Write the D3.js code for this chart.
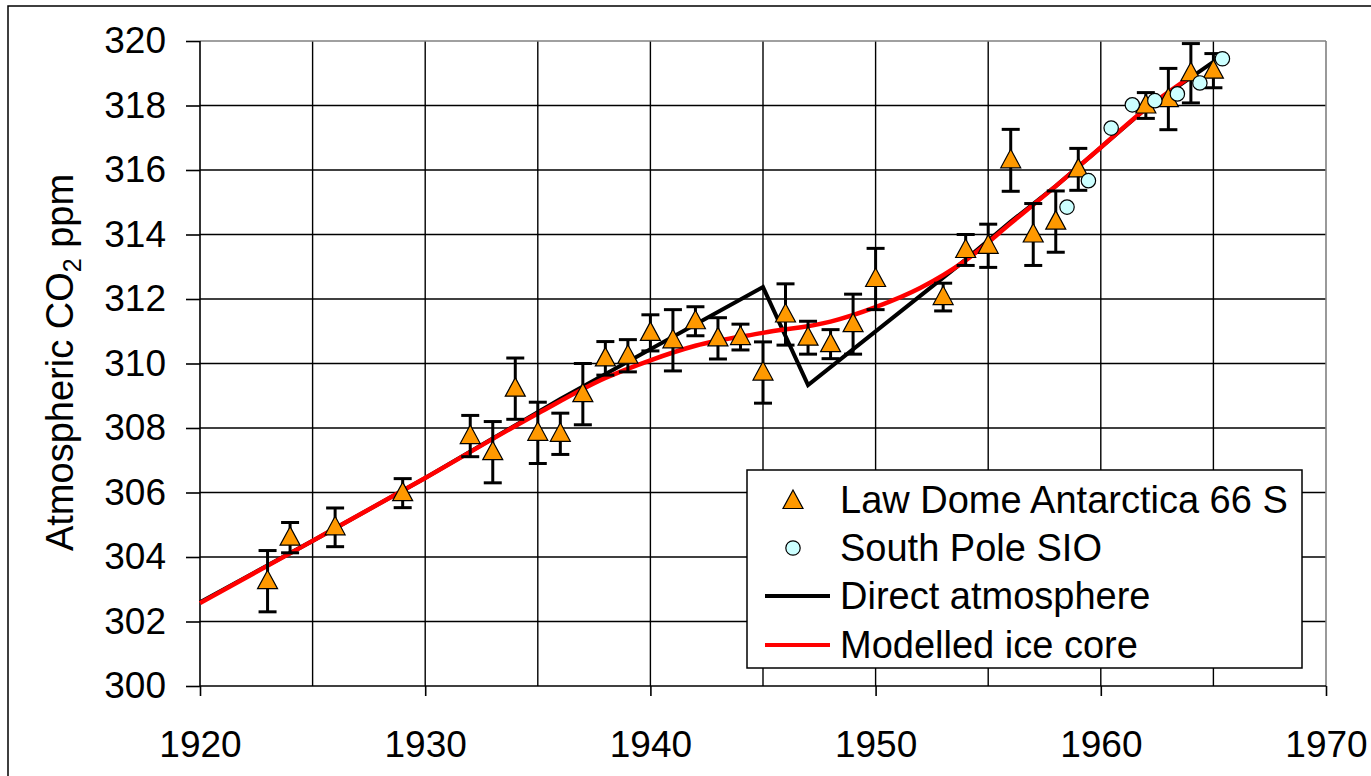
<!DOCTYPE html>
<html>
<head>
<meta charset="utf-8">
<script src="https://cdn.jsdelivr.net/npm/d3@7"></script>
<style>
  body { margin: 0; background: #fff; }
  svg { display: block; font-family: "Liberation Sans", Arial, sans-serif; }
</style>
</head>
<body>
<div id="chart"></div>
<script>
// Law Dome ice core: [year, ppm, error]
const lawDome = [
    [1923, 303.25, 0.95], [1924, 304.6, 0.47], [1926, 304.92, 0.6], [1929, 305.98, 0.45],
    [1932, 307.75, 0.64], [1933, 307.25, 0.95], [1934, 309.22, 0.95], [1935, 307.85, 0.95],
    [1936, 307.82, 0.64], [1937, 309.05, 0.95], [1938, 310.16, 0.52], [1939, 310.24, 0.5],
    [1940, 310.95, 0.56], [1941, 310.72, 0.95], [1942, 311.31, 0.45], [1943, 310.78, 0.64],
    [1944, 310.82, 0.4], [1945, 309.72, 0.95], [1946, 311.52, 0.95], [1947, 310.8, 0.51],
    [1948, 310.6, 0.45], [1949, 311.22, 0.93], [1950, 312.62, 0.95], [1953, 312.06, 0.43],
    [1954, 313.52, 0.48], [1955, 313.65, 0.67], [1956, 316.3, 0.96], [1957, 314.0, 0.96],
    [1958, 314.4, 0.95], [1959, 316.02, 0.65], [1962, 318.0, 0.4], [1963, 318.2, 0.95],
    [1964, 319.0, 0.92], [1965, 319.08, 0.53]
];

// South Pole SIO flask data: [year, ppm]
const southPole = [
    [1958.5, 314.85], [1959.45, 315.67], [1960.46, 317.3], [1961.4, 318.02],
    [1962.4, 318.15], [1963.4, 318.36], [1964.4, 318.7], [1965.4, 319.45]
];

// direct atmosphere (black)
const directAtm = [
    [1920, 302.6], [1925, 304.5], [1930, 306.45], [1936, 308.9], [1945, 312.37],
    [1947, 309.33], [1953.7, 313.05], [1956, 314.4], [1958, 315.5], [1960, 316.7],
    [1962, 317.9], [1965, 319.35]
];

// modelled ice core (red)
const modelled = [
    [1920, 302.57], [1925, 304.5], [1930, 306.45], [1935, 308.45], [1938, 309.55],
    [1940, 310.1], [1942, 310.55], [1945, 310.95], [1948, 311.3], [1950, 311.75],
    [1952, 312.35], [1954, 313.2], [1956, 314.35], [1958, 315.5], [1960, 316.7],
    [1962, 317.9], [1964, 318.9]
];

const xTicks = [1920, 1930, 1940, 1950, 1960, 1970];
const xGrid = d3.range(1920, 1971, 5);
const yTicks = d3.range(300, 321, 2);

const W = 1371, H = 776;
const fontSize = 37;

const svg = d3.select("#chart").append("svg")
    .attr("width", W)
    .attr("height", H);

// outer chart border (only left + top visible)
svg.append("rect")
    .attr("x", 8).attr("y", 6)
    .attr("width", 1500).attr("height", 900)
    .attr("fill", "none")
    .attr("stroke", "#000")
    .attr("stroke-width", 1.5);

const x = d3.scaleLinear().domain([1920, 1970]).range([200, 1326]);
const y = d3.scaleLinear().domain([300, 320]).range([686, 41]);

// grid
svg.append("g").selectAll("line")
    .data(xGrid.slice(1, -1))
    .enter().append("line")
    .attr("x1", d => x(d)).attr("x2", d => x(d))
    .attr("y1", y(320)).attr("y2", y(300))
    .attr("stroke", "#000").attr("stroke-width", 1.4);

svg.append("g").selectAll("line")
    .data(yTicks.slice(1, -1))
    .enter().append("line")
    .attr("x1", x(1920)).attr("x2", x(1970))
    .attr("y1", d => y(d)).attr("y2", d => y(d))
    .attr("stroke", "#000").attr("stroke-width", 1.4);

// frame: top & right grey, left & bottom black
svg.append("line")
    .attr("x1", x(1920)).attr("x2", x(1970))
    .attr("y1", y(320)).attr("y2", y(320))
    .attr("stroke", "#808080").attr("stroke-width", 1.6);
svg.append("line")
    .attr("x1", x(1970)).attr("x2", x(1970))
    .attr("y1", y(320)).attr("y2", y(300))
    .attr("stroke", "#808080").attr("stroke-width", 1.6);

// axes
const yAxis = svg.append("g")
    .attr("transform", `translate(${x(1920)},0)`)
    .call(d3.axisLeft(y).tickValues(yTicks).tickSize(14).tickPadding(20).tickSizeOuter(0));
const xAxis = svg.append("g")
    .attr("transform", `translate(0,${y(300)})`)
    .call(d3.axisBottom(x).tickValues(xTicks).tickSize(10).tickPadding(35).tickSizeOuter(0)
        .tickFormat(d3.format("d")));

[yAxis, xAxis].forEach(g => {
    g.select(".domain").attr("stroke", "#000").attr("stroke-width", 1.6);
    g.selectAll(".tick line").attr("stroke", "#000").attr("stroke-width", 1.6);
    g.selectAll(".tick text")
        .attr("fill", "#000")
        .style("font-size", fontSize + "px")
        .style("font-family", '"Liberation Sans", Arial, sans-serif');
});
xAxis.select(".domain").attr("d", `M${x(1920)},0H${x(1970)}`);
yAxis.select(".domain").attr("d", `M0,${y(300)}V${y(320)}`);

// y label
const ylab = svg.append("text")
    .attr("transform", `translate(73,${(170 + 555) / 2}) rotate(-90)`)
    .attr("text-anchor", "middle")
    .style("font-size", "38px");
ylab.append("tspan").text("Atmospheric CO");
ylab.append("tspan").attr("dy", 8).style("font-size", "25px").text("2");
ylab.append("tspan").attr("dy", -8).text(" ppm");

// lines
const line = d3.line()
    .x(d => x(d[0]))
    .y(d => y(d[1]));

svg.append("path")
    .datum(directAtm)
    .attr("fill", "none")
    .attr("stroke", "#000")
    .attr("stroke-width", 4)
    .attr("stroke-linejoin", "miter")
    .attr("d", line);

svg.append("path")
    .datum(modelled)
    .attr("fill", "none")
    .attr("stroke", "#ff0000")
    .attr("stroke-width", 4.5)
    .attr("d", line.curve(d3.curveMonotoneX));

// error bars
const eb = svg.append("g").attr("stroke", "#000").attr("stroke-width", 3);
lawDome.forEach(d => {
    const cx = x(d[0]);
    const y1 = y(d[1] + d[2]), y2 = y(d[1] - d[2]);
    eb.append("line").attr("x1", cx).attr("x2", cx).attr("y1", y1).attr("y2", y2);
    eb.append("line").attr("x1", cx - 9).attr("x2", cx + 9).attr("y1", y1).attr("y2", y1);
    eb.append("line").attr("x1", cx - 9).attr("x2", cx + 9).attr("y1", y2).attr("y2", y2);
});

const triPath = "M0,-11L10,7.5L-10,7.5Z";

svg.append("g").selectAll("path")
    .data(lawDome)
    .enter().append("path")
    .attr("transform", d => `translate(${x(d[0])},${y(d[1])})`)
    .attr("d", triPath)
    .attr("fill", "#ff9900")
    .attr("stroke", "#000")
    .attr("stroke-width", 1.2);

svg.append("g").selectAll("circle")
    .data(southPole)
    .enter().append("circle")
    .attr("cx", d => x(d[0]))
    .attr("cy", d => y(d[1]))
    .attr("r", 7.2)
    .attr("fill", "#ccffff")
    .attr("stroke", "#000")
    .attr("stroke-width", 1.2);

// legend
const lg = svg.append("g");
lg.append("rect")
    .attr("x", 747).attr("y", 470)
    .attr("width", 555).attr("height", 198)
    .attr("fill", "#fff")
    .attr("stroke", "#000")
    .attr("stroke-width", 1.5);

const legendItems = ["Law Dome Antarctica 66 S", "South Pole SIO", "Direct atmosphere", "Modelled ice core"];
const rowY = [500, 548, 596, 645];

legendItems.forEach((t, i) => {
    lg.append("text")
        .attr("x", 840).attr("y", rowY[i])
        .attr("dy", "0.35em")
        .style("font-size", "38px")
        .text(t);
});
lg.append("path")
    .attr("transform", `translate(793,${rowY[0] + 1})`)
    .attr("d", triPath)
    .attr("fill", "#ff9900").attr("stroke", "#000").attr("stroke-width", 1.2);
lg.append("circle")
    .attr("cx", 793).attr("cy", rowY[1])
    .attr("r", 7.2)
    .attr("fill", "#ccffff").attr("stroke", "#000").attr("stroke-width", 1.2);
lg.append("line")
    .attr("x1", 765).attr("x2", 830).attr("y1", rowY[2]).attr("y2", rowY[2])
    .attr("stroke", "#000").attr("stroke-width", 4);
lg.append("line")
    .attr("x1", 765).attr("x2", 830).attr("y1", rowY[3]).attr("y2", rowY[3])
    .attr("stroke", "#ff0000").attr("stroke-width", 4);
</script>
</body>
</html>
